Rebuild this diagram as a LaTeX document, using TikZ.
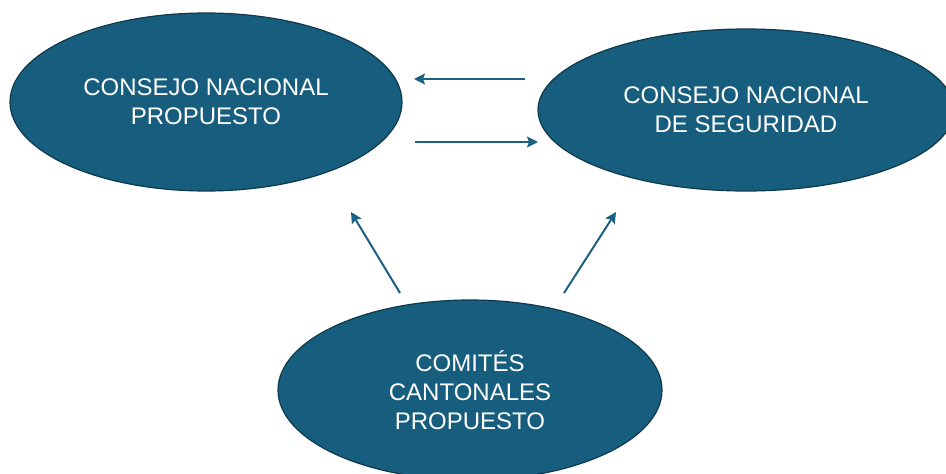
\documentclass[tikz,border=0pt]{standalone}
\usepackage{fontspec}
\setmainfont{Liberation Sans}
\usetikzlibrary{shapes.geometric,arrows.meta}
\definecolor{ellfill}{HTML}{175E7E}
\definecolor{elldraw}{HTML}{0E3A4E}
\definecolor{arrcol}{HTML}{1A6183}
\tikzset{
  bubble/.style={ellipse, fill=ellfill, draw=elldraw, line width=1.2pt, inner sep=0pt,
    text=white, align=center, font=\fontsize{24}{29}\selectfont},
  link/.style={draw=arrcol, line width=2pt, -{Stealth[length=11pt,width=11pt,inset=2pt]}}
}
\begin{document}
\begin{tikzpicture}[x=1pt,y=-1pt]
\useasboundingbox (0,0) rectangle (946,474);
\clip (0,0) rectangle (946,474);
\fill[white] (0,0) rectangle (946,474);
\node[bubble, minimum width=392pt, minimum height=178pt] (cnp) at (206,102) {CONSEJO NACIONAL\\PROPUESTO};
\node[bubble, minimum width=416pt, minimum height=162pt] (cns) at (746,110) {CONSEJO NACIONAL\\DE SEGURIDAD};
\node[bubble, minimum width=384pt, minimum height=180pt] (ccp) at (470,390) {COMITÉS\\CANTONALES\\PROPUESTO};
\coordinate (a1s) at (525,79);
\coordinate (a1e) at (414,79);
\coordinate (a2s) at (415,142);
\coordinate (a2e) at (538,142);
\coordinate (a3s) at (400,293);
\coordinate (a3e) at (351,212);
\coordinate (a4s) at (564,293);
\coordinate (a4e) at (616,212);
\draw[link] (a1s) -- (a1e);
\draw[link] (a2s) -- (a2e);
\draw[link] (a3s) -- (a3e);
\draw[link] (a4s) -- (a4e);
\end{tikzpicture}
\end{document}
